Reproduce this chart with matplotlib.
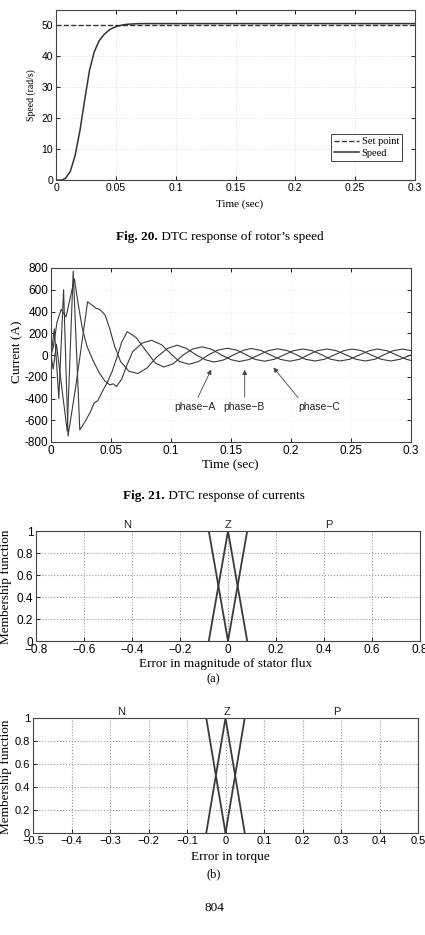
import matplotlib
matplotlib.use("Agg")
import matplotlib.pyplot as plt

SERIF = "Liberation Serif"
SANS = "Liberation Sans"

# Fig. 20 - rotor speed
speed_t = [0, 0.005, 0.008, 0.012, 0.016, 0.02, 0.024, 0.028, 0.032, 0.036,
           0.04, 0.045, 0.05, 0.055, 0.06, 0.07, 0.1, 0.3]
speed = [0, 0, 0.6, 2.8, 8, 16, 26, 35.5, 41.5, 45,
         47, 48.7, 49.6, 50.1, 50.4, 50.6, 50.6, 50.6]
setpoint_t = [0, 0.3]
setpoint = [50, 50]
speed_xticks = [0, 0.05, 0.1, 0.15, 0.2, 0.25, 0.3]
speed_xticklabels = ["0", "0.05", "0.1", "0.15", "0.2", "0.25", "0.3"]
speed_yticks = [0, 10, 20, 30, 40, 50]

# Fig. 21 - phase currents
ia_t = [0, 0.0028, 0.0065, 0.0105, 0.0142, 0.0205, 0.0305, 0.034, 0.0375, 0.0405,
        0.045, 0.049, 0.053, 0.058, 0.065, 0.0725, 0.080, 0.088, 0.097,
        0.105, 0.113, 0.121, 0.129, 0.136, 0.144, 0.152, 0.160, 0.167, 0.175,
        0.183, 0.191, 0.199, 0.207, 0.214, 0.222, 0.230, 0.238, 0.246, 0.254,
        0.262, 0.270, 0.277, 0.285, 0.293, 0.300]
ia = [0, 240, -400, 600, -745, -300, 490, 460, 430, 420,
      370, 240, 80, -60, -150, -170, -120, -20, 60,
      90, 60, 0, -45, -65, -45, 0, 42, 60, 42,
      0, -40, -57, -40, 0, 40, 55, 39, 0, -39,
      -55, -39, 0, 39, 55, 40]
ib_t = [0, 0.0018, 0.0045, 0.009, 0.0135, 0.0185, 0.024, 0.028, 0.033, 0.036,
        0.039, 0.043, 0.047, 0.051, 0.055, 0.059, 0.0635, 0.071, 0.079, 0.087,
        0.094, 0.102, 0.110, 0.118, 0.126, 0.134, 0.142, 0.150, 0.157, 0.165,
        0.173, 0.181, 0.189, 0.197, 0.205, 0.212, 0.220, 0.228, 0.236, 0.244,
        0.251, 0.259, 0.267, 0.275, 0.283, 0.291, 0.300]
ib = [0, -130, 100, -300, -700, 770, -690, -620, -520, -440,
      -420, -330, -250, -150, -20, 120, 215, 160, 40, -75,
      -110, -80, 0, 55, 75, 52, 0, -43, -60, -42,
      0, 40, 57, 40, 0, -39, -55, -39, 0, 39,
      55, 39, 0, -39, -55, -39, 0]
ic_t = [0, 0.002, 0.005, 0.0085, 0.0125, 0.0165, 0.0195, 0.0225, 0.026, 0.030,
        0.035, 0.040, 0.045, 0.049, 0.052, 0.0545, 0.059, 0.063, 0.068, 0.076,
        0.084, 0.092, 0.100, 0.107, 0.115, 0.123, 0.131, 0.139, 0.147, 0.155,
        0.163, 0.170, 0.178, 0.186, 0.194, 0.202, 0.210, 0.218, 0.226, 0.233,
        0.241, 0.249, 0.257, 0.265, 0.272, 0.280, 0.288, 0.296, 0.300]
ic = [0, 80, 300, 420, 350, 550, 700, 480, 250, 80,
      -50, -160, -240, -275, -265, -290, -220, -100, 30, 110,
      135, 95, 10, -60, -85, -60, 0, 45, 62, 44,
      0, -40, -57, -40, 0, 39, 55, 39, 0, -39,
      -55, -39, 0, 39, 55, 39, 0, -39, -50]
cur_xticks = [0, 0.05, 0.1, 0.15, 0.2, 0.25, 0.3]
cur_xticklabels = ["0", "0.05", "0.1", "0.15", "0.2", "0.25", "0.3"]
cur_yticks = [-800, -600, -400, -200, 0, 200, 400, 600, 800]
cur_yticklabels = ["-800", "-600", "-400", "-200", "0", "200", "400", "600", "800"]

# Fuzzy membership functions
flux_n = ([-0.8, -0.08, 0], [1, 1, 0])
flux_z = ([-0.08, 0, 0.08], [0, 1, 0])
flux_p = ([0, 0.08, 0.8], [0, 1, 1])
flux_xticks = [-0.8, -0.6, -0.4, -0.2, 0, 0.2, 0.4, 0.6, 0.8]
flux_xticklabels = ["\u22120.8", "\u22120.6", "\u22120.4", "\u22120.2", "0",
                    "0.2", "0.4", "0.6", "0.8"]
torq_n = ([-0.5, -0.05, 0], [1, 1, 0])
torq_z = ([-0.05, 0, 0.05], [0, 1, 0])
torq_p = ([0, 0.05, 0.5], [0, 1, 1])
torq_xticks = [-0.5, -0.4, -0.3, -0.2, -0.1, 0, 0.1, 0.2, 0.3, 0.4, 0.5]
torq_xticklabels = ["\u22120.5", "\u22120.4", "\u22120.3", "\u22120.2", "\u22120.1", "0",
                    "0.1", "0.2", "0.3", "0.4", "0.5"]
mf_yticks = [0, 0.2, 0.4, 0.6, 0.8, 1]
mf_yticklabels = ["0", "0.2", "0.4", "0.6", "0.8", "1"]

W, H = 425, 935
fig = plt.figure(figsize=(W / 100, H / 100), dpi=100)


def box(left, top, right, bottom):
    return [left / W, 1 - bottom / H, (right - left) / W, (bottom - top) / H]


def style(ax, size, grid_color, grid_lw=0.6):
    ax.tick_params(direction="in", top=True, right=True, length=3, width=0.6,
                   labelsize=size, pad=2)
    for lab in ax.get_xticklabels() + ax.get_yticklabels():
        lab.set_fontfamily(SANS)
    for s in ax.spines.values():
        s.set_linewidth(0.8)
        s.set_color("#444444")
    ax.grid(True, linestyle=":", color=grid_color, linewidth=grid_lw)


def caption(x_split, y_px, bold, rest):
    y = 1 - y_px / H
    fig.text(x_split, y, bold, fontsize=9.5, ha="right", va="center",
             family=SERIF, fontweight="bold")
    fig.text(x_split, y, " " + rest, fontsize=9.5, ha="left", va="center",
             family=SERIF)


# ---- Fig. 20
ax1 = fig.add_axes(box(56, 10, 415, 180))
ax1.plot(setpoint_t, setpoint, "--", color="#333333", lw=1.0, label="Set point")
ax1.plot(speed_t, speed, "-", color="#333333", lw=1.1, label="Speed")
ax1.set_xlim(0, 0.3)
ax1.set_ylim(0, 55)
ax1.set_xticks(speed_xticks)
ax1.set_xticklabels(speed_xticklabels)
ax1.set_yticks(speed_yticks)
style(ax1, 7.5, "#d8d8d8")
ax1.set_xlabel("Time (sec)", fontfamily=SERIF, fontsize=8, va="center")
ax1.xaxis.set_label_coords(0.512, -0.141)
ax1.set_ylabel("Speed (rad/s)", fontfamily=SERIF, fontsize=7, va="center")
ax1.yaxis.set_label_coords(-0.068, 0.5)
leg = ax1.legend(loc="lower right", bbox_to_anchor=(0.964, 0.112),
                 prop={"family": SERIF, "size": 7.5}, handlelength=2.4,
                 fancybox=False, framealpha=1, borderpad=0.3, labelspacing=0.2,
                 handletextpad=0.2, borderaxespad=0)
leg.get_frame().set_edgecolor("#444444")
leg.get_frame().set_linewidth(0.7)

caption(0.372, 237, "Fig. 20.", "DTC response of rotor\u2019s speed")

# ---- Fig. 21
ax2 = fig.add_axes(box(51, 268, 411, 442))
for t, i in [(ia_t, ia), (ib_t, ib), (ic_t, ic)]:
    ax2.plot(t, i, color="#3a3a3a", lw=0.8)
ax2.set_xlim(0, 0.3)
ax2.set_ylim(-800, 800)
ax2.set_xticks(cur_xticks)
ax2.set_xticklabels(cur_xticklabels)
ax2.set_yticks(cur_yticks)
ax2.set_yticklabels(cur_yticklabels)
style(ax2, 8.5, "#ececec")
ax2.set_xlabel("Time (sec)", fontfamily=SERIF, fontsize=9.5, va="center")
ax2.xaxis.set_label_coords(0.499, -0.132)
ax2.set_ylabel("Current (A)", fontfamily=SERIF, fontsize=9.5, va="center")
ax2.yaxis.set_label_coords(-0.094, 0.52)
arrows = [("phase\u2212A", (0.1214, -414), (0.1345, -110), (0.120, -480)),
          ("phase\u2212B", (0.1614, -414), (0.1614, -110), (0.161, -480)),
          ("phase\u2212C", (0.2075, -414), (0.1839, -95), (0.2236, -480))]
for name, tail, tip, pos in arrows:
    ax2.annotate("", xy=tip, xytext=tail,
                 arrowprops=dict(arrowstyle="-|>", color="#444444", lw=0.6,
                                 mutation_scale=7))
    ax2.text(pos[0], pos[1], name, fontsize=7.5, family=SANS, ha="center",
             va="center", color="#222222")

caption(0.388, 496, "Fig. 21.", "DTC response of currents")


# ---- membership functions
def mf_axes(rect, n, z, p, xticks, xticklabels, xlabel, label_pos, xl_coords,
            yl_x, size):
    ax = fig.add_axes(rect)
    for x, y in (n, z, p):
        ax.plot(x, y, color="#3a3a3a", lw=1.3, solid_joinstyle="miter")
    ax.set_xlim(xticks[0], xticks[-1])
    ax.set_ylim(0, 1)
    ax.set_xticks(xticks)
    ax.set_xticklabels(xticklabels)
    ax.set_yticks(mf_yticks)
    ax.set_yticklabels(mf_yticklabels)
    style(ax, size, "#999999", 0.8)
    ax.tick_params(top=False, right=False)
    for name, xpos in zip("NZP", label_pos):
        ax.text(xpos, 1.01, name, fontsize=8, family=SANS, ha="center",
                va="bottom", color="#222222")
    ax.set_xlabel(xlabel, fontfamily=SERIF, fontsize=9.5, va="center")
    ax.xaxis.set_label_coords(xl_coords, -0.209)
    ax.set_ylabel("Membership function", fontfamily=SERIF, fontsize=9.5,
                  va="center")
    ax.yaxis.set_label_coords(yl_x, 0.49)
    return ax


mf_axes(box(36, 531, 420, 641), flux_n, flux_z, flux_p, flux_xticks,
        flux_xticklabels, "Error in magnitude of stator flux", (-0.42, 0.0, 0.42),
        0.494, -0.078, 8.5)
fig.text(0.502, 1 - 679 / H, "(a)", fontsize=9, ha="center", va="center",
         family=SERIF)

mf_axes(box(33, 718, 418, 833), torq_n, torq_z, torq_p, torq_xticks,
        torq_xticklabels, "Error in torque", (-0.27, 0.004, 0.29),
        0.513, -0.071, 8)
fig.text(0.502, 1 - 874 / H, "(b)", fontsize=9, ha="center", va="center",
         family=SERIF)

fig.text(0.504, 1 - 908 / H, "804", fontsize=9.5, ha="center", va="center",
         family=SERIF)

fig.savefig("out.png", dpi=100)
